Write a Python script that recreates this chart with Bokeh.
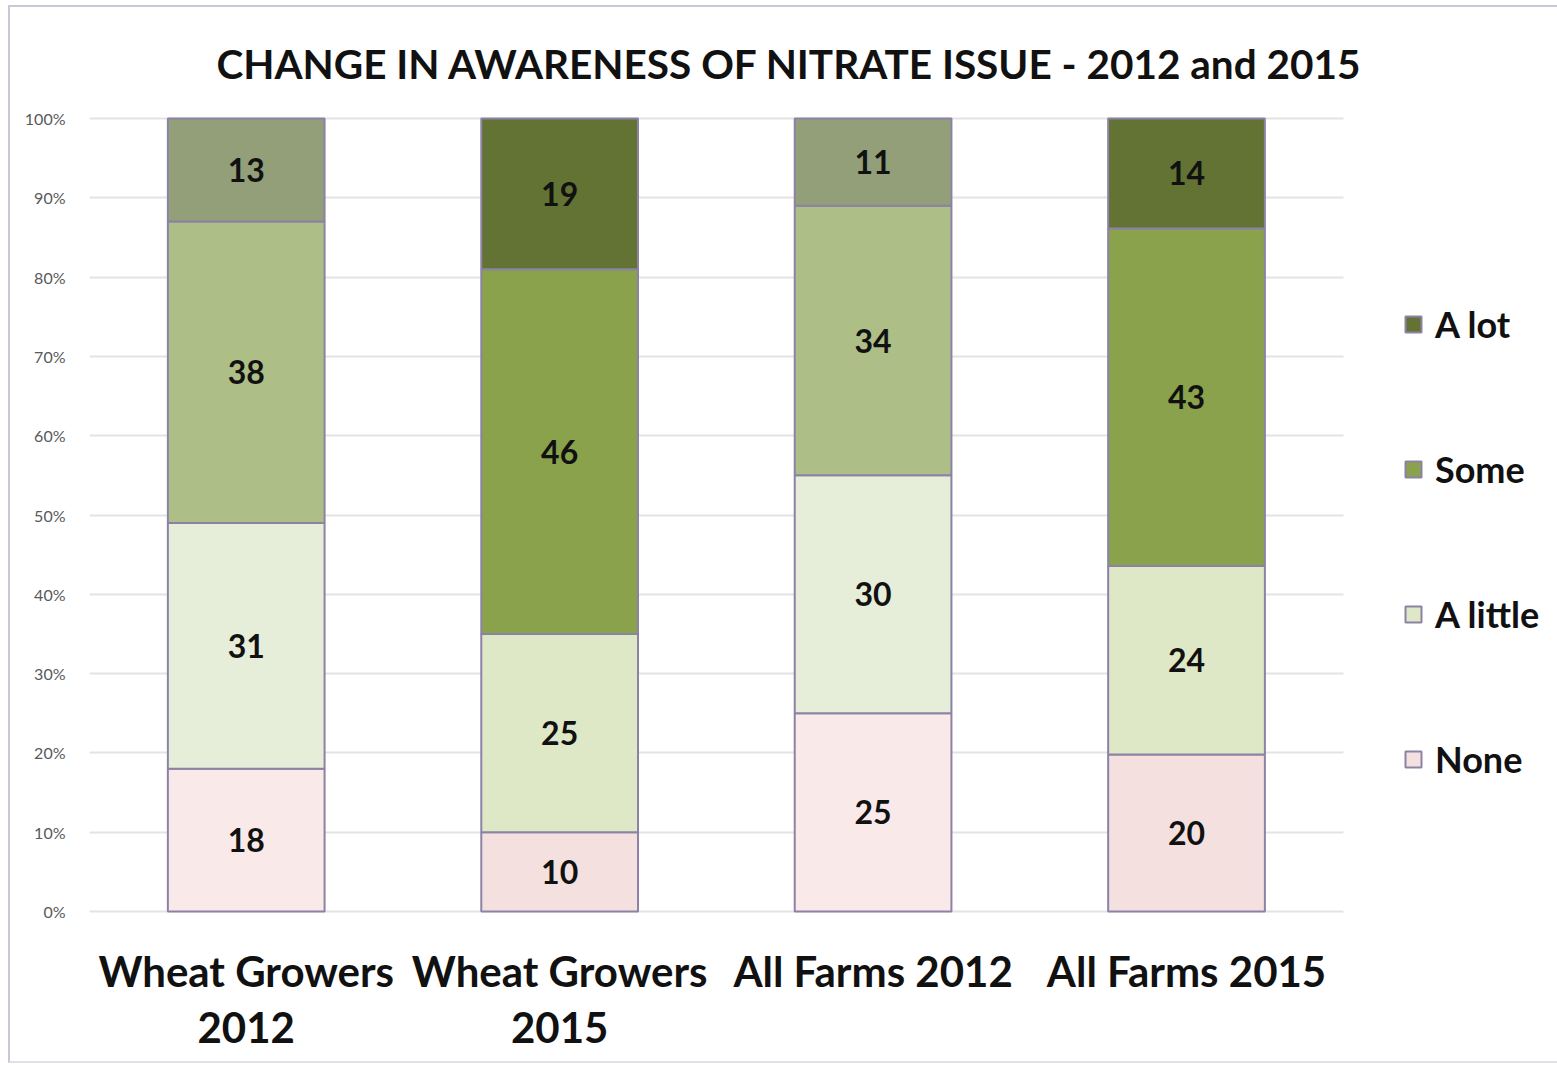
from bokeh.plotting import figure
from bokeh.models import (ColumnDataSource, Range1d, FixedTicker, NumeralTickFormatter,
                          Legend, LegendItem, LinearAxis)
from bokeh.core.properties import value
from bokeh.embed import file_html
from bokeh.resources import INLINE

# Survey groups and responses (percent of respondents)
categories = ["Wheat Growers 2012", "Wheat Growers 2015", "All Farms 2012", "All Farms 2015"]
label_line1 = ["Wheat Growers", "Wheat Growers", "All Farms 2012", "All Farms 2015"]
label_line2 = ["2012", "2015"]
none_vals = [18, 10, 25, 20]
a_little_vals = [31, 25, 30, 24]
some_vals = [38, 46, 34, 43]
a_lot_vals = [13, 19, 11, 14]
series_names = ["None", "A little", "Some", "A lot"]
y_ticks = [0, 0.1, 0.2, 0.3, 0.4, 0.5, 0.6, 0.7, 0.8, 0.9, 1.0]

# 2012 bars use muted shades, 2015 bars the saturated ones
colors_2012 = {"None": "#fae9e9", "A little": "#e6edd8", "Some": "#adbf87", "A lot": "#929f78"}
colors_2015 = {"None": "#f5e0e0", "A little": "#dfe8c6", "Some": "#89a24b", "A lot": "#627333"}
edge = "#8c82a6"
FONT = "Lato"

series_vals = [none_vals, a_little_vals, some_vals, a_lot_vals]
totals = [sum(col) for col in zip(*series_vals)]
xs = list(range(len(categories)))

p = figure(width=1549, height=1058, output_backend="svg", toolbar_location=None,
           x_range=Range1d(-0.5, 4.19), y_range=Range1d(-0.0025, 1.0025),
           min_border_left=79, min_border_right=0, min_border_top=109, min_border_bottom=152,
           title="CHANGE IN AWARENESS OF NITRATE ISSUE - 2012 and 2015")
p.margin = (5, 0, 3, 8)
p.styles = {"border-top": "2px solid #cbc6da", "border-left": "2px solid #cbc6da",
            "border-bottom": "2px solid #e2dfea"}
p.outline_line_color = None
p.background_fill_color = "white"
p.border_fill_color = "white"

p.title.text_font = FONT
p.title.text_font_size = "40.5px"
p.title.text_font_style = "bold"
p.title.text_color = "#111111"
p.title.align = "left"
p.title.offset = 127
p.title.standoff = 58

renderers = {}
bottoms = [0.0] * len(categories)
for name, vals in zip(series_names, series_vals):
    frac = [v / t for v, t in zip(vals, totals)]
    tops = [b + f for b, f in zip(bottoms, frac)]
    mids = [(b + t) / 2 for b, t in zip(bottoms, tops)]
    fills = [colors_2012[name] if c.endswith("2012") else colors_2015[name] for c in categories]
    src = ColumnDataSource(dict(x=xs, cat=categories, bottom=bottoms, top=tops, mid=mids,
                                fill=fills, label=[str(v) for v in vals]))
    r = p.vbar(x="x", width=0.5, bottom="bottom", top="top", source=src,
               fill_color="fill", line_color=edge, line_width=2)
    p.text(x="x", y="mid", text="label", source=src, text_align="center",
           text_baseline="middle", text_font=value(FONT), text_font_style="bold",
           text_font_size="32px", text_color="#111111")
    renderers[name] = r
    bottoms = tops

# y axis: percentages
p.yaxis.ticker = FixedTicker(ticks=y_ticks)
p.yaxis.formatter = NumeralTickFormatter(format="0%")
p.yaxis.axis_line_color = None
p.yaxis.major_tick_line_color = None
p.yaxis.minor_tick_line_color = None
p.yaxis.major_label_text_font = FONT
p.yaxis.major_label_text_font_size = "16px"
p.yaxis.major_label_text_color = "#595959"
p.yaxis.major_label_standoff = 18


def style_cat_axis(ax, ticks, names, standoff):
    ax.ticker = FixedTicker(ticks=ticks)
    ax.minor_tick_line_color = None
    ax.major_label_overrides = {t: n for t, n in zip(ticks, names)}
    ax.axis_line_color = None
    ax.major_tick_line_color = None
    ax.major_label_text_font = FONT
    ax.major_label_text_font_size = "42px"
    ax.major_label_text_font_style = "bold"
    ax.major_label_text_color = "#111111"
    ax.major_label_standoff = standoff


# group names, written on two lines where they are long
style_cat_axis(p.xaxis[0], xs, label_line1, 26)
xaxis2 = LinearAxis()
style_cat_axis(xaxis2, xs[:len(label_line2)], label_line2, 7)
p.add_layout(xaxis2, "below")

p.xgrid.grid_line_color = None
p.ygrid.grid_line_color = "#e3e3e3"
p.ygrid.grid_line_width = 2
p.ygrid.cross_bounds = (-0.5, 3.5)

legend = Legend(items=[LegendItem(label=n, renderers=[renderers[n]], index=1)
                       for n in ["A lot", "Some", "A little", "None"]],
                location=(1314, 132))
legend.border_line_color = None
legend.background_fill_alpha = 0
legend.label_text_font = FONT
legend.label_text_font_size = "36px"
legend.label_text_font_style = "bold"
legend.label_text_color = "#111111"
legend.glyph_width = 20
legend.glyph_height = 20
legend.label_height = 40
legend.label_standoff = 12
legend.spacing = 101
legend.padding = 0
legend.margin = 0
p.add_layout(legend)

open("out.html", "w").write(file_html(p, INLINE))
